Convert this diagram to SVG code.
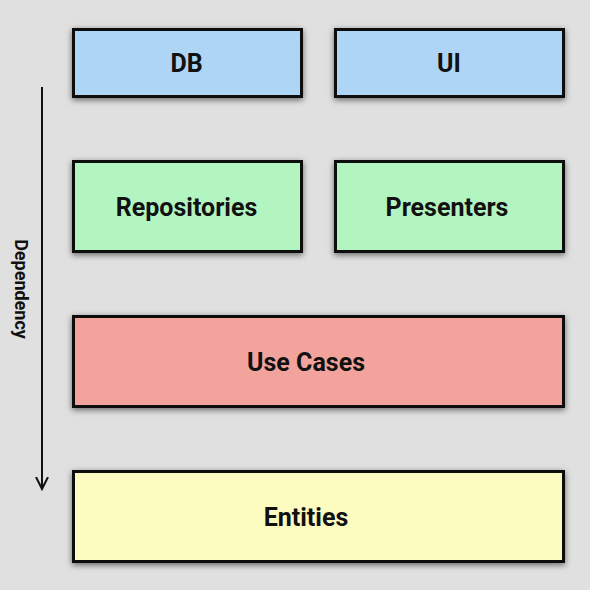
<svg xmlns="http://www.w3.org/2000/svg" width="590" height="590" viewBox="0 0 590 590">
<defs>
<filter id="sh" x="-10%" y="-20%" width="120%" height="140%">
<feDropShadow dx="0" dy="2" stdDeviation="3" flood-color="#000" flood-opacity="0.55"/>
</filter>
<marker id="arr" markerWidth="14" markerHeight="20" refX="12" refY="10" orient="auto" markerUnits="userSpaceOnUse">
<path d="M0,4 L12,10 L0,16" fill="none" stroke="#111" stroke-width="2"/>
</marker>
</defs>
<style>
.box{stroke:#111;stroke-width:3;filter:url(#sh)}
.lbl{font-family:Roboto,"Liberation Sans",sans-serif;font-weight:bold;font-size:25px;fill:#111;text-anchor:middle;dominant-baseline:central}
.side{font-family:Roboto,"Liberation Sans",sans-serif;font-weight:bold;font-size:18px;fill:#111;text-anchor:middle;dominant-baseline:central}
</style>
<rect width="590" height="590" fill="#e0e0e0"/>
<g id="connectors">
<line x1="42" y1="87" x2="42" y2="489" stroke="#111" stroke-width="2" marker-end="url(#arr)"/>
<text class="side" transform="translate(21,289) rotate(90)">Dependency</text>
</g>
<g id="db"><rect class="box" x="73.5" y="29.5" width="228" height="67" fill="#aed4f6"/><text class="lbl" x="186.5" y="63">DB</text></g>
<g id="ui"><rect class="box" x="335.5" y="29.5" width="228" height="67" fill="#aed4f6"/><text class="lbl" x="449" y="63">UI</text></g>
<g id="repositories"><rect class="box" x="73.5" y="161.5" width="228" height="90" fill="#b3f5c0"/><text class="lbl" x="186.5" y="207">Repositories</text></g>
<g id="presenters"><rect class="box" x="335.5" y="161.5" width="228" height="90" fill="#b3f5c0"/><text class="lbl" x="447" y="207">Presenters</text></g>
<g id="usecases"><rect class="box" x="73.5" y="316.5" width="490" height="90" fill="#f2a39c"/><text class="lbl" x="306" y="362">Use Cases</text></g>
<g id="entities"><rect class="box" x="73.5" y="471.5" width="490" height="90" fill="#fcfbc0"/><text class="lbl" x="306" y="517">Entities</text></g>
</svg>
